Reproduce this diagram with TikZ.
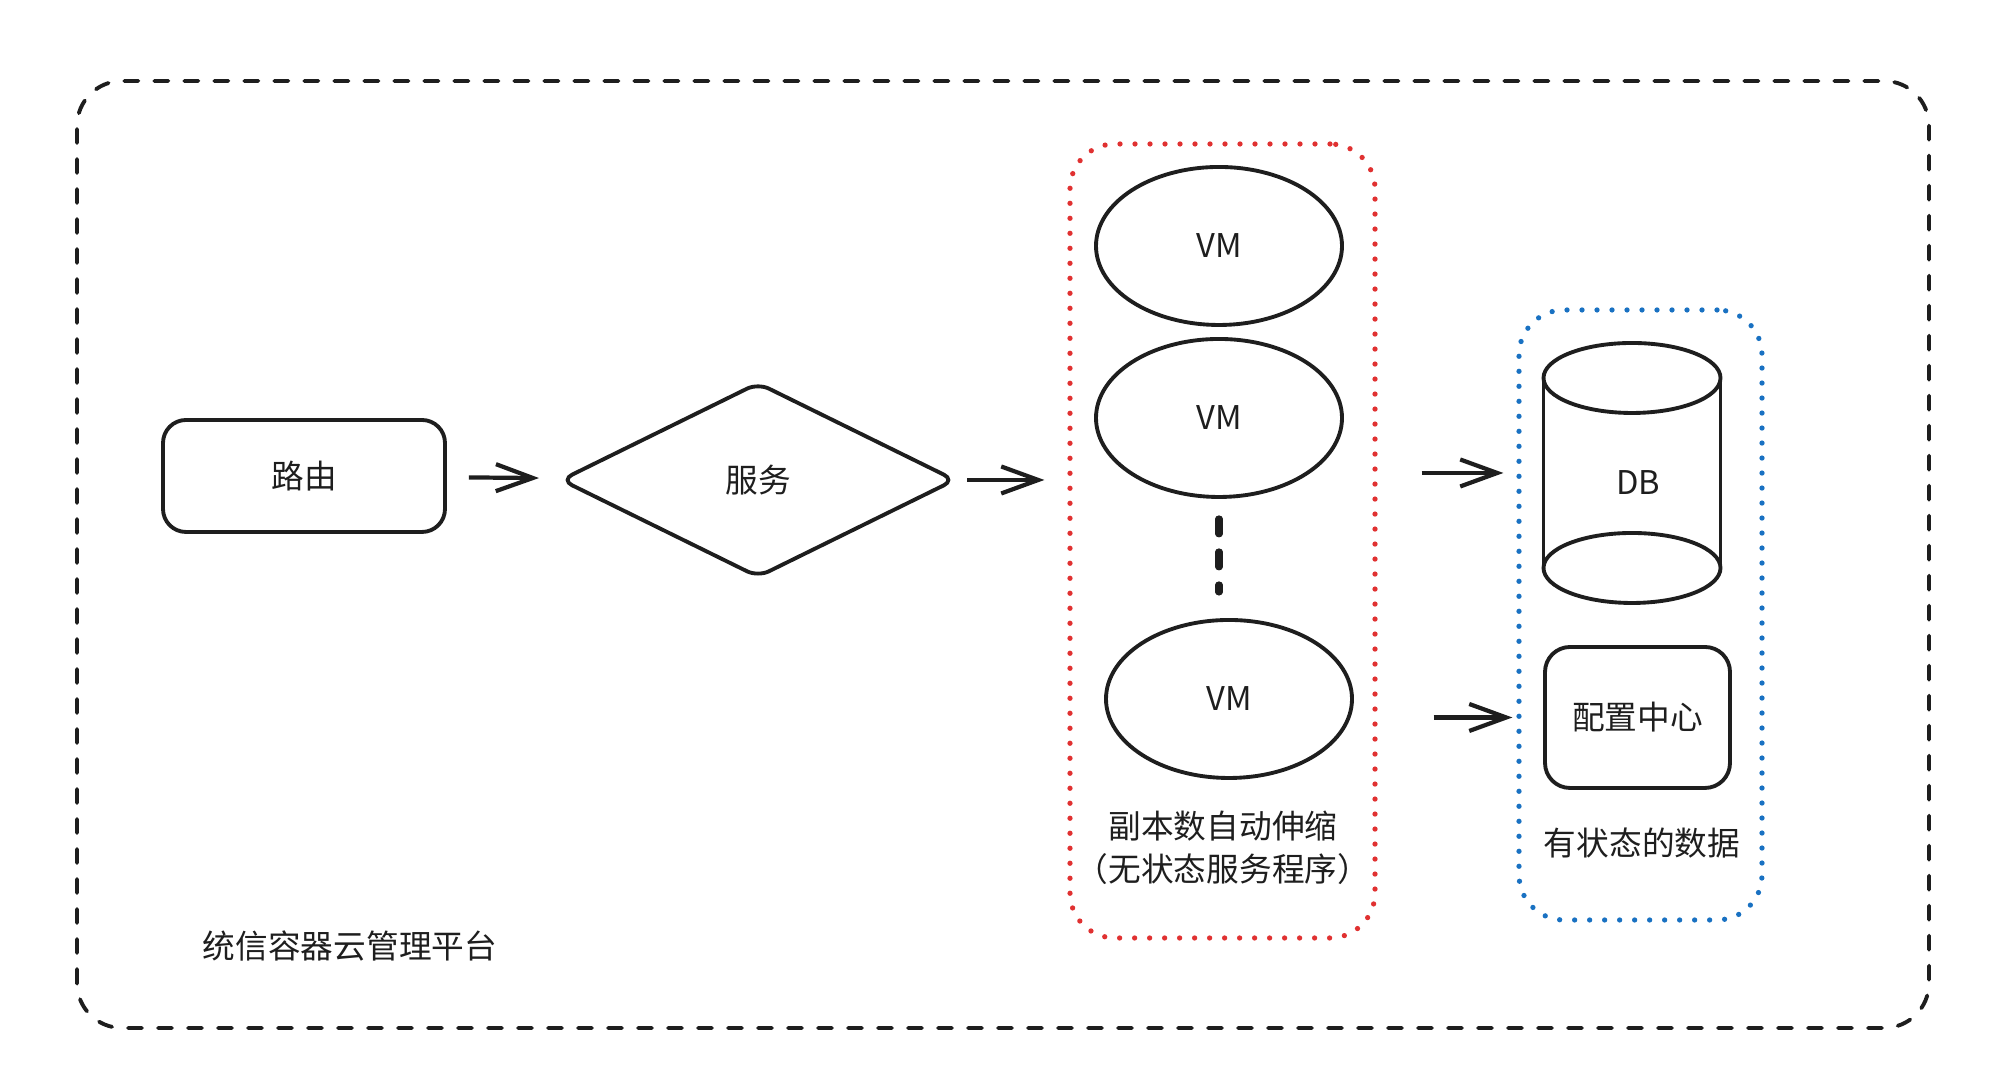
\documentclass[tikz,border=0pt]{standalone}
\usepackage{fontspec}
\setmainfont{Noto Sans CJK SC}
\usepackage{xcolor}
\usetikzlibrary{shapes.geometric,arrows.meta}

\definecolor{inkgray}{HTML}{1E1E1E}
\definecolor{groupred}{HTML}{E03131}
\definecolor{groupblue}{HTML}{1971C2}

\begin{document}
\begin{tikzpicture}[
    font=\fontsize{9.3}{12.2}\selectfont, text=inkgray,
    shapeline/.style={draw=inkgray, line width=1.1pt},
    flowarrow/.style={draw=inkgray, line width=1.2pt, -{Straight Barb[length=0.37cm,width=0.27cm]}},
    groupbox/.style={draw=#1, line width=1.5pt, line cap=round, dash pattern=on 0pt off 0.15cm, rounded corners=0.45cm},
    vmnode/.style={shapeline, ellipse, minimum width=2.46cm, minimum height=1.58cm, inner sep=0pt}
]
\useasboundingbox (0,0) rectangle (20,10.78);

% outer platform frame
\draw[draw=inkgray, line width=1.1pt, line cap=round, dash pattern=on 0.14cm off 0.16cm, rounded corners=0.45cm] (0.77,0.50) rectangle (19.29,9.97);
\node (platform) at (3.50,1.32) {统信容器云管理平台};

% route and service
\node[shapeline, rounded corners=0.23cm, minimum width=2.82cm, minimum height=1.12cm] (route) at (3.04,6.02) {路由};
\node[shapeline, diamond, rounded corners=0.12cm, minimum width=3.95cm, minimum height=1.95cm, inner sep=0pt] (service) at (7.58,5.98) {服务};

% stateless replicas
\node[groupbox=groupred, minimum width=3.05cm, minimum height=7.94cm] (replicas) at (12.225,5.37) {};
\node[vmnode] (vmA) at (12.19,8.32) {VM};
\node[vmnode] (vmB) at (12.19,6.60) {VM};
\node[vmnode] (vmC) at (12.29,3.79) {VM};
\draw[draw=inkgray, line width=2pt, line cap=round, dash pattern=on 0.15cm off 0.18cm, shorten <=0.2cm, shorten >=0.26cm] (vmB.south) -- (vmB.south |- vmC.north);
\node[align=center] (replicaslabel) at (12.23,2.30) {副本数自动伸缩\\（无状态服务程序）};

% stateful data
\node[groupbox=groupblue, minimum width=2.43cm, minimum height=6.10cm] (stateful) at (16.405,4.63) {};
\node[minimum width=1.77cm, minimum height=2.6cm] (db) at (16.32,6.05) {};
\node (dbtext) at (16.38,5.95) {DB};
\draw[shapeline] (16.32,7.00) ellipse (0.885cm and 0.35cm);
\draw[shapeline] (15.435,7.00) -- (15.435,5.10);
\draw[shapeline] (17.205,7.00) -- (17.205,5.10);
\draw[shapeline] (16.32,5.10) ellipse (0.885cm and 0.35cm);
\node[shapeline, rounded corners=0.25cm, minimum width=1.85cm, minimum height=1.41cm] (config) at (16.375,3.605) {配置中心};
\node (statefullabel) at (16.42,2.35) {有状态的数据};

% arrows
\draw[flowarrow, shorten <=0.22cm, shorten >=0.23cm] (route) -- (service);
\draw[flowarrow, shorten <=0.10cm, shorten >=0.23cm] (service) -- (replicas.west |- service);
\draw[flowarrow, shorten <=0.44cm, shorten >=0.13cm] (replicas.east |- db) -- (stateful.west |- db);
\draw[flowarrow, shorten <=0.56cm, shorten >=0.04cm] (replicas.east |- config) -- (stateful.west |- config);

\end{tikzpicture}
\end{document}
